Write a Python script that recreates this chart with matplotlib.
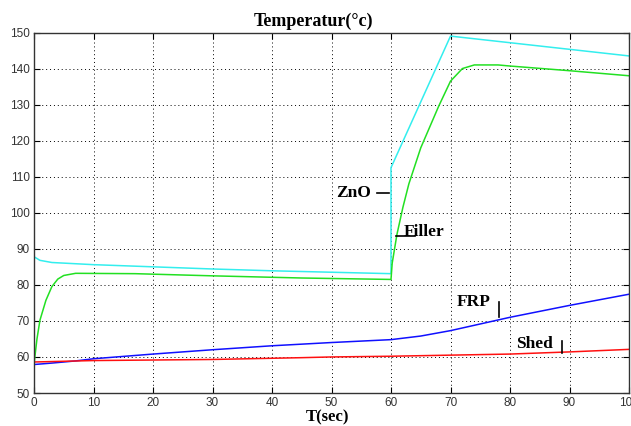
import matplotlib
matplotlib.use("Agg")
import matplotlib.pyplot as plt

# ZnO (cyan)
t_zno = [0, 0, 1, 3, 10, 20, 30, 40, 50, 60, 60, 70, 100]
zno = [58, 87.8, 86.8, 86.2, 85.6, 85.0, 84.4, 83.9, 83.5, 83.1, 112.5, 149, 143.5]

# Filler (green)
t_filler = [0, 0.5, 1, 2, 3, 4, 5, 7, 17, 30, 45, 60, 60.2, 61, 62, 63, 65, 68, 70, 72, 74, 78, 80, 90, 100]
filler = [58, 65, 70.2, 75.7, 79.5, 81.6, 82.6, 83.2, 83.1, 82.5, 81.9, 81.5, 86, 94, 101.5, 108,
          118, 129.5, 136.5, 140, 141, 141, 140.7, 139.4, 138.0]

# FRP (blue)
t_frp = [0, 3, 7, 10, 20, 30, 40, 50, 60, 65, 70, 80, 90, 100]
frp = [57.9, 58.3, 58.9, 59.5, 60.8, 62.0, 63.1, 64.0, 64.8, 65.8, 67.3, 71.0, 74.3, 77.4]

# Shed (red)
t_shed = [0, 10, 30, 45, 50, 60, 70, 80, 90, 100]
shed = [58.6, 59.0, 59.3, 59.8, 60.0, 60.2, 60.5, 60.8, 61.4, 62.1]

serif = "Liberation Serif"
sans = "Liberation Sans"

fig = plt.figure(figsize=(6.31, 4.26), dpi=100)
ax = fig.add_axes([34 / 631, 1 - 393 / 426, 595 / 631, 360.5 / 426])

ax.plot(t_zno, zno, color="#33eeee", lw=1.1)
ax.plot(t_filler, filler, color="#22e022", lw=1.1)
ax.plot(t_frp, frp, color="#1010ff", lw=1.1)
ax.plot(t_shed, shed, color="#ff1010", lw=1.1)

ax.set_xlim(0, 100)
ax.set_ylim(50, 150)
ax.set_xticks(range(0, 101, 10))
ax.set_yticks(range(50, 151, 10))
ax.grid(True, color="black", linestyle=(0, (1, 3)), linewidth=0.7)
ax.tick_params(direction="in", length=4, top=True, right=True, labelsize=8.5,
               labelcolor="#333333", pad=3)
for lbl in ax.get_xticklabels() + ax.get_yticklabels():
    lbl.set_fontfamily(sans)
for sp in ax.spines.values():
    sp.set_color("#333333")
    sp.set_linewidth(1.0)

# curve labels
bold = dict(fontfamily=serif, fontweight="bold", fontsize=12.5, color="black")
ax.text(50.8, 105.6, "ZnO", va="center", ha="left", **bold)
ax.plot([57.6, 59.7], [105.6, 105.6], color="black", lw=1.2)
ax.text(62.2, 93.6, "Filler", va="baseline", ha="left", **bold)
ax.plot([60.9, 64.0], [93.6, 93.6], color="black", lw=1.2)
ax.text(71.0, 74.1, "FRP", va="baseline", ha="left", **bold)
ax.plot([78.2, 78.2], [71.1, 75.3], color="black", lw=1.2)
ax.text(81.0, 62.5, "Shed", va="baseline", ha="left", **bold)
ax.plot([88.8, 88.8], [61.1, 64.4], color="black", lw=1.2)

fig.text(313 / 631, 1 - 26 / 426, "Temperatur(°c)", ha="center", va="baseline",
         fontfamily=serif, fontweight="bold", fontsize=13)
fig.text(328 / 631, 1 - 421 / 426, "T(sec)", ha="center", va="baseline",
         fontfamily=serif, fontweight="bold", fontsize=12)

fig.savefig("out.png", dpi=100)
